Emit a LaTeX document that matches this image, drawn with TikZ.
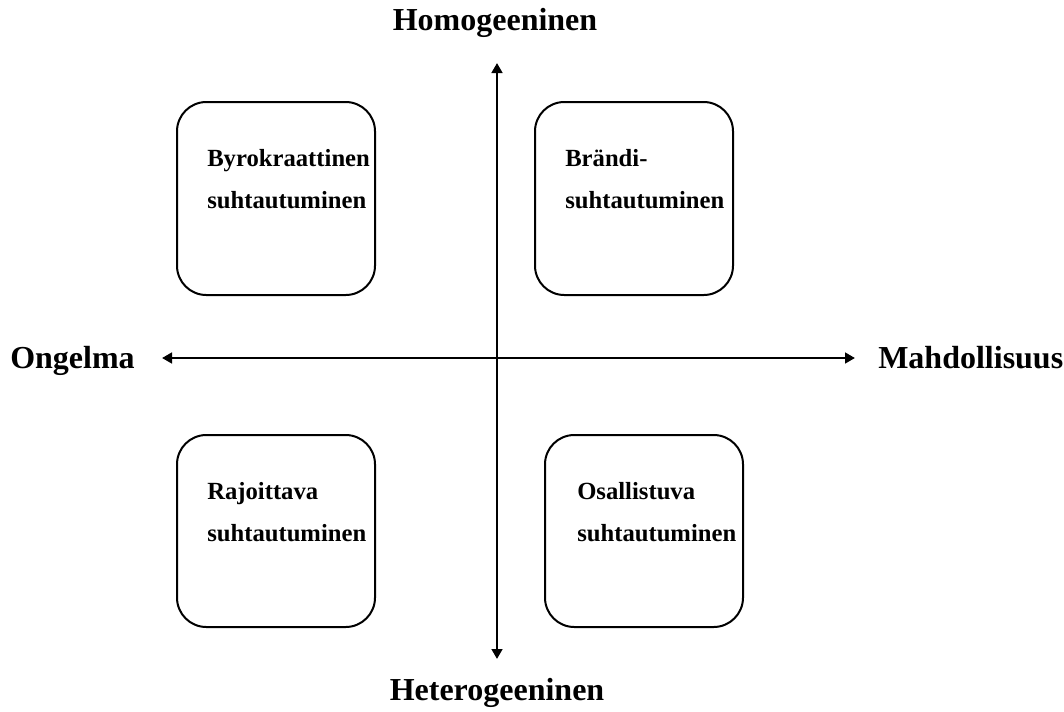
\documentclass[tikz,border=0pt]{standalone}
\usepackage{fontspec}
\setmainfont{Liberation Serif}
\usetikzlibrary{arrows.meta}
\begin{document}
\begin{tikzpicture}[x=0.75pt,y=-0.75pt,
  quad/.style={draw, line width=1.5pt, rounded corners=22pt},
  axis/.style={line width=2pt, {Triangle[length=7.5pt,width=8pt]}-{Triangle[length=7.5pt,width=8pt]}},
  axlabel/.style={font=\fontsize{24}{28}\selectfont\bfseries, inner sep=0pt},
  boxtext/.style={font=\fontsize{18.5}{22}\selectfont\bfseries, inner sep=0pt, anchor=base west}]
\useasboundingbox (0,0) rectangle (1064,711);
% axes
\coordinate (top) at (497,63);
\coordinate (bot) at (497,659);
\coordinate (lft) at (162,358);
\coordinate (rgt) at (855,358);
\draw[axis] (top) -- (bot);
\draw[axis] (lft) -- (rgt);
% axis labels
\node[axlabel, anchor=base] (hom) at (495,30) {Homogeeninen};
\node[axlabel, anchor=base] (het) at (497,700) {Heterogeeninen};
\node[axlabel, anchor=base west] (ong) at (10,368) {Ongelma};
\node[axlabel, anchor=base west] (mah) at (878,368) {Mahdollisuus};
% boxes
\draw[quad] (177,102) rectangle (375,295);
\draw[quad] (535,102) rectangle (733,295);
\draw[quad] (177,435) rectangle (375,627);
\draw[quad] (545,435) rectangle (743,627);
% box texts
\node[boxtext] (tl1) at (207,166) {Byrokraattinen};
\node[boxtext] (tl2) at (207,208) {suhtautuminen};
\node[boxtext] (tr1) at (565,166) {Brändi-};
\node[boxtext] (tr2) at (565,208) {suhtautuminen};
\node[boxtext] (bl1) at (207,499) {Rajoittava};
\node[boxtext] (bl2) at (207,541) {suhtautuminen};
\node[boxtext] (br1) at (577,499) {Osallistuva};
\node[boxtext] (br2) at (577,541) {suhtautuminen};
\end{tikzpicture}
\end{document}
